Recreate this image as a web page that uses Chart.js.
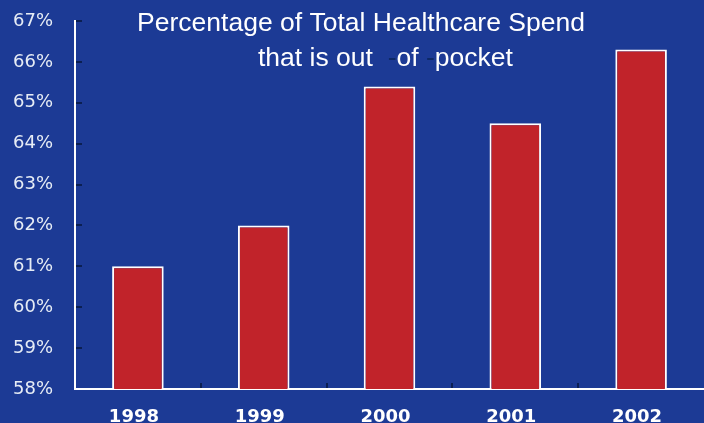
<!DOCTYPE html>
<html><head><meta charset="utf-8">
<script src="https://cdn.jsdelivr.net/npm/chart.js@4/dist/chart.umd.min.js"></script>
<style>html,body{margin:0;padding:0;background:#1c3a95;}#wrap{width:704px;height:423px;}</style>
</head><body><div id="wrap"><canvas id="c" width="704" height="423"></canvas></div>
<script>
const categories = ["1998","1999","2000","2001","2002"];
const outOfPocketPct = [61.0, 62.0, 65.4, 64.5, 66.3];
const yMin = 58, yMax = 67;
const titleLine1 = "Percentage of Total Healthcare Spend";
const titleLine2 = ["that is out  ", "-", "of ", "-", "pocket"];

const bgPlugin = {
  id:'bg',
  beforeDraw(chart){
    const ctx=chart.ctx; ctx.save(); ctx.fillStyle='#1c3a95'; ctx.fillRect(0,0,chart.width,chart.height); ctx.restore();
  },
  afterDraw(chart){
    const ctx=chart.ctx, ca=chart.chartArea, xs=chart.scales.x, ys=chart.scales.y;
    ctx.save();
    ctx.strokeStyle='#0b1f52'; ctx.lineWidth=2;
    ys.ticks.forEach(t=>{ if(t.value===yMin) return; const y=Math.round(ys.getPixelForValue(t.value)); ctx.beginPath(); ctx.moveTo(ca.left+1,y); ctx.lineTo(ca.left+7,y); ctx.stroke();});
    const step = xs.getPixelForValue(1)-xs.getPixelForValue(0);
    for(let i=1;i<categories.length;i++){
      const x = Math.round(xs.getPixelForValue(i)-step/2);
      ctx.beginPath(); ctx.moveTo(x,ca.bottom-1); ctx.lineTo(x,ca.bottom-6); ctx.stroke();
    }
    ctx.font='26.5px "Liberation Sans", Arial, sans-serif';
    ctx.textBaseline='middle'; ctx.textAlign='left';
    ctx.fillStyle='#ffffff';
    const w1=ctx.measureText(titleLine1).width;
    ctx.fillText(titleLine1, 361-w1/2, 24);
    let x=258;
    titleLine2.forEach(s=>{ctx.fillStyle = s==='-' ? '#0d2866' : '#ffffff'; ctx.fillText(s,x,59); x+=ctx.measureText(s).width;});
    ctx.restore();
  }
};

new Chart(document.getElementById('c'), {
  type:'bar',
  data:{labels:categories, datasets:[{data:outOfPocketPct, backgroundColor:'#c1232a', borderColor:'#ffffff', borderWidth:2, borderSkipped:false, categoryPercentage:1, barPercentage:0.41}]},
  options:{
    responsive:false, animation:false, devicePixelRatio:1,
    layout:{padding:{top:21,left:0,right:0,bottom:0}},
    plugins:{legend:{display:false}, title:{display:false}, tooltip:{enabled:false}},
    scales:{
      x:{
        grid:{display:false, drawTicks:false},
        border:{display:true, color:'#ffffff', width:2},
        ticks:{color:'#ffffff', padding:18, labelOffset:-4, font:{family:'"DejaVu Sans", Verdana, sans-serif', size:18, weight:'bold'}},
        afterFit(s){s.height=34; s.paddingLeft=0; s.paddingRight=0;}
      },
      y:{
        min:yMin, max:yMax,
        grid:{display:false, drawTicks:false},
        border:{display:true, color:'#ffffff', width:2},
        ticks:{stepSize:1, color:'#e6ecf5', padding:22, font:{family:'"DejaVu Sans", Verdana, sans-serif', size:18}, callback:v=>v+'%'},
        afterFit(s){s.width=75; s.paddingTop=0; s.paddingBottom=0;}
      }
    }
  },
  plugins:[bgPlugin]
});
</script></body></html>
